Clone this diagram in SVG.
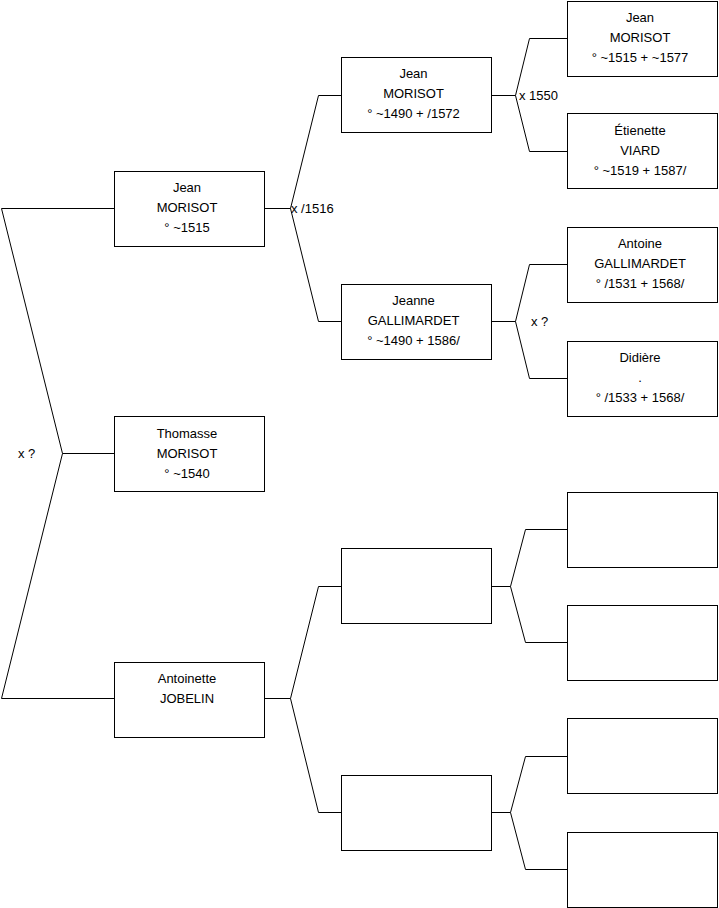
<svg xmlns="http://www.w3.org/2000/svg" width="719" height="908" viewBox="0 0 719 908">
<style>
.box{fill:#fff;stroke:#000;stroke-width:1}
.ln{fill:none;stroke:#000;stroke-width:1}
text{font-family:"Liberation Sans",Arial,sans-serif;font-size:13px;fill:#000}
.c{text-anchor:middle}
</style>
<rect width="719" height="908" fill="#fff"/>
<g id="connectors">
<polyline class="ln" points="114,208.5 1.5,208.5 62.5,453.5 1.5,698.5 114,698.5"/>
<line class="ln" x1="62.5" y1="453.5" x2="114" y2="453.5"/>
<line class="ln" x1="265" y1="208.5" x2="290.5" y2="208.5"/>
<polyline class="ln" points="341,95.5 318.5,95.5 290.5,208.5 318.5,321.5 341,321.5"/>
<line class="ln" x1="265" y1="698.5" x2="290.5" y2="698.5"/>
<polyline class="ln" points="341,586.5 318.5,586.5 290.5,698.5 318.5,812.5 341,812.5"/>
<line class="ln" x1="492" y1="95.5" x2="515.5" y2="95.5"/>
<polyline class="ln" points="567,38.5 529.5,38.5 515.5,95.5 529.5,151.5 567,151.5"/>
<line class="ln" x1="492" y1="321.5" x2="515.5" y2="321.5"/>
<polyline class="ln" points="567,264.5 529.5,264.5 515.5,321.5 529.5,378.5 567,378.5"/>
<line class="ln" x1="492" y1="586.5" x2="510.5" y2="586.5"/>
<polyline class="ln" points="567,529.5 525.5,529.5 510.5,586.5 525.5,642.5 567,642.5"/>
<line class="ln" x1="492" y1="812.5" x2="510.5" y2="812.5"/>
<polyline class="ln" points="567,756.5 525.5,756.5 510.5,812.5 525.5,869.5 567,869.5"/>
<text x="18" y="457.5">x ?</text>
<text x="291" y="212.5">x /1516</text>
<text x="519" y="99.5">x 1550</text>
<text x="531" y="325.5">x ?</text>
</g>
<g id="n-jean-1515">
<rect class="box" x="114.5" y="171.5" width="150" height="75"/>
<text class="c" x="187" y="191.5">Jean</text>
<text class="c" x="187" y="211.5">MORISOT</text>
<text class="c" x="187" y="231.5">° ~1515</text>
</g>
<g id="n-thomasse">
<rect class="box" x="114.5" y="416.5" width="150" height="75"/>
<text class="c" x="187" y="437.5">Thomasse</text>
<text class="c" x="187" y="457.5">MORISOT</text>
<text class="c" x="187" y="477.5">° ~1540</text>
</g>
<g id="n-antoinette">
<rect class="box" x="114.5" y="662.5" width="150" height="75"/>
<text class="c" x="187" y="682.5">Antoinette</text>
<text class="c" x="187" y="702.5">JOBELIN</text>
</g>
<g id="n-jean-1490">
<rect class="box" x="341.5" y="57.5" width="150" height="75"/>
<text class="c" x="413.5" y="77.5">Jean</text>
<text class="c" x="413.5" y="97.5">MORISOT</text>
<text class="c" x="413.5" y="117.5">° ~1490 + /1572</text>
</g>
<g id="n-jeanne">
<rect class="box" x="341.5" y="284.5" width="150" height="75"/>
<text class="c" x="413.5" y="304.5">Jeanne</text>
<text class="c" x="413.5" y="324.5">GALLIMARDET</text>
<text class="c" x="413.5" y="344.5">° ~1490 + 1586/</text>
</g>
<g id="n-blank-g2a">
<rect class="box" x="341.5" y="548.5" width="150" height="75"/>
</g>
<g id="n-blank-g2b">
<rect class="box" x="341.5" y="775.5" width="150" height="75"/>
</g>
<g id="n-jean-1515b">
<rect class="box" x="567.5" y="1.5" width="150" height="75"/>
<text class="c" x="640" y="21.5">Jean</text>
<text class="c" x="640" y="41.5">MORISOT</text>
<text class="c" x="640" y="61.5">° ~1515 + ~1577</text>
</g>
<g id="n-etienette">
<rect class="box" x="567.5" y="113.5" width="150" height="75"/>
<text class="c" x="640" y="134.5">Étienette</text>
<text class="c" x="640" y="154.5">VIARD</text>
<text class="c" x="640" y="174.5">° ~1519 + 1587/</text>
</g>
<g id="n-antoine">
<rect class="box" x="567.5" y="227.5" width="150" height="75"/>
<text class="c" x="640" y="247.5">Antoine</text>
<text class="c" x="640" y="267.5">GALLIMARDET</text>
<text class="c" x="640" y="287.5">° /1531 + 1568/</text>
</g>
<g id="n-didiere">
<rect class="box" x="567.5" y="341.5" width="150" height="75"/>
<text class="c" x="640" y="361.5">Didière</text>
<text class="c" x="640" y="381.5">.</text>
<text class="c" x="640" y="401.5">° /1533 + 1568/</text>
</g>
<g id="n-blank-g3a"><rect class="box" x="567.5" y="492.5" width="150" height="75"/></g>
<g id="n-blank-g3b"><rect class="box" x="567.5" y="605.5" width="150" height="75"/></g>
<g id="n-blank-g3c"><rect class="box" x="567.5" y="718.5" width="150" height="75"/></g>
<g id="n-blank-g3d"><rect class="box" x="567.5" y="832.5" width="150" height="75"/></g>
</svg>
